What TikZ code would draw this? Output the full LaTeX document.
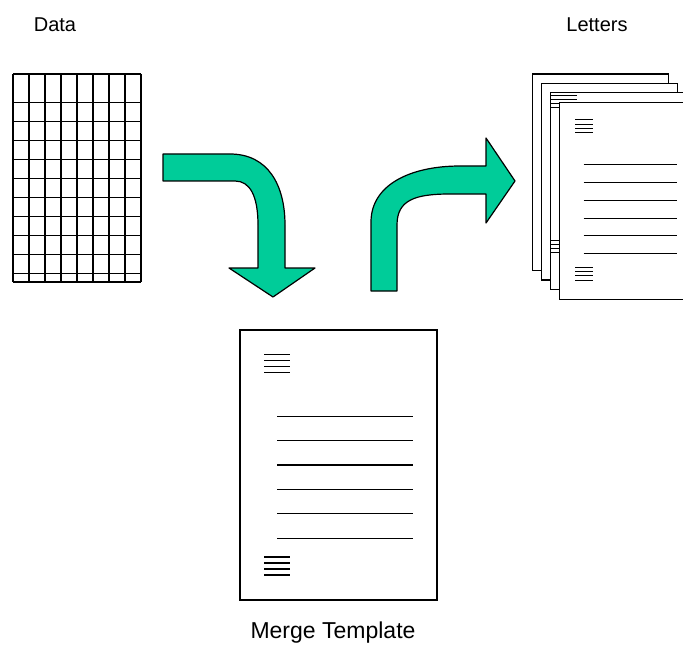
\documentclass[tikz,border=0pt]{standalone}
\usepackage{fontspec}
\setmainfont{Liberation Sans}
\definecolor{arrowgreen}{RGB}{0,204,153}
\begin{document}
\begin{tikzpicture}[x=1pt,y=-1pt,
  gridline/.style={line width=1.4pt},
  pageframe/.style={draw, fill=white, line width=1.3pt},
  textline/.style={line width=1.3pt},
  smallline/.style={line width=1pt},
  bendarrow/.style={fill=arrowgreen, draw=black, line width=1.2pt, line join=round},
  lbl/.style={font=\fontsize{20}{24}\selectfont, inner sep=0pt}]
\useasboundingbox (0,0) rectangle (683,658);
\begin{scope}
\clip (0,0) rectangle (683,658);
% data grid
\foreach \c in {0,...,8} \draw[gridline] (13+16*\c,74) -- (13+16*\c,282);
\foreach \r in {74,102.5,121.5,140.5,159.5,178.5,197.5,216.5,235.5,254.5,273.5,282}
  \draw[gridline] (13,\r) -- (141,\r);
% left bent arrow
\draw[bendarrow] (163,154) -- (230,154) .. controls (268,154) and (285,185) .. (285,225)
  -- (285,268) -- (315,268) -- (273,297) -- (229,268) -- (258,268) -- (258,225)
  .. controls (258,196) and (250,181) .. (235,181) -- (163,181) -- cycle;
% right bent arrow
\draw[bendarrow] (371,291) -- (371,222) .. controls (371,185) and (410,166) .. (460,166)
  -- (486,166) -- (486,138) -- (515,181) -- (486,223) -- (486,194) -- (450,194)
  .. controls (415,194) and (397,200) .. (397,225) -- (397,291) -- cycle;
% template page
\draw[pageframe] (240,330) rectangle (437,600);
\foreach \r in {354.5,360.5,366.5,372.5,557,563,569,575}
  \draw[textline] (264,\r) -- (290,\r);
\foreach \r in {416.3,440.5,465,489.5,513.7,538.3}
  \draw[textline] (277,\r) -- (413,\r);
% letters stack
\draw[pageframe] (532.7,74) rectangle ++(135.6,196.7);
\draw[pageframe] (541.7,83.3) rectangle ++(135.6,196.7);
\draw[pageframe] (550.5,92.5) rectangle ++(135.6,196.7);
\foreach \r in {95.3,99.5,103.7,107.9,240,244.3,248.6,252.9}
  \draw[smallline] (551,\r) -- (577,\r);
\draw[pageframe] (559.5,102.7) rectangle ++(135.6,196.7);
\foreach \r in {120,124.2,128.4,132.6,267.3,271.6,275.9,280.2}
  \draw[smallline] (575,\r) -- (593,\r);
\foreach \r in {165,182.7,200.3,218,235.7,253.3}
  \draw[smallline] (583.5,\r) -- (676.5,\r);
\end{scope}
% labels
\node[lbl] (data) at (55,25) {Data};
\node[lbl] (letters) at (597,25) {Letters};
\node[lbl, font=\fontsize{23}{27}\selectfont] (merge) at (333,633) {Merge Template};
\end{tikzpicture}
\end{document}
